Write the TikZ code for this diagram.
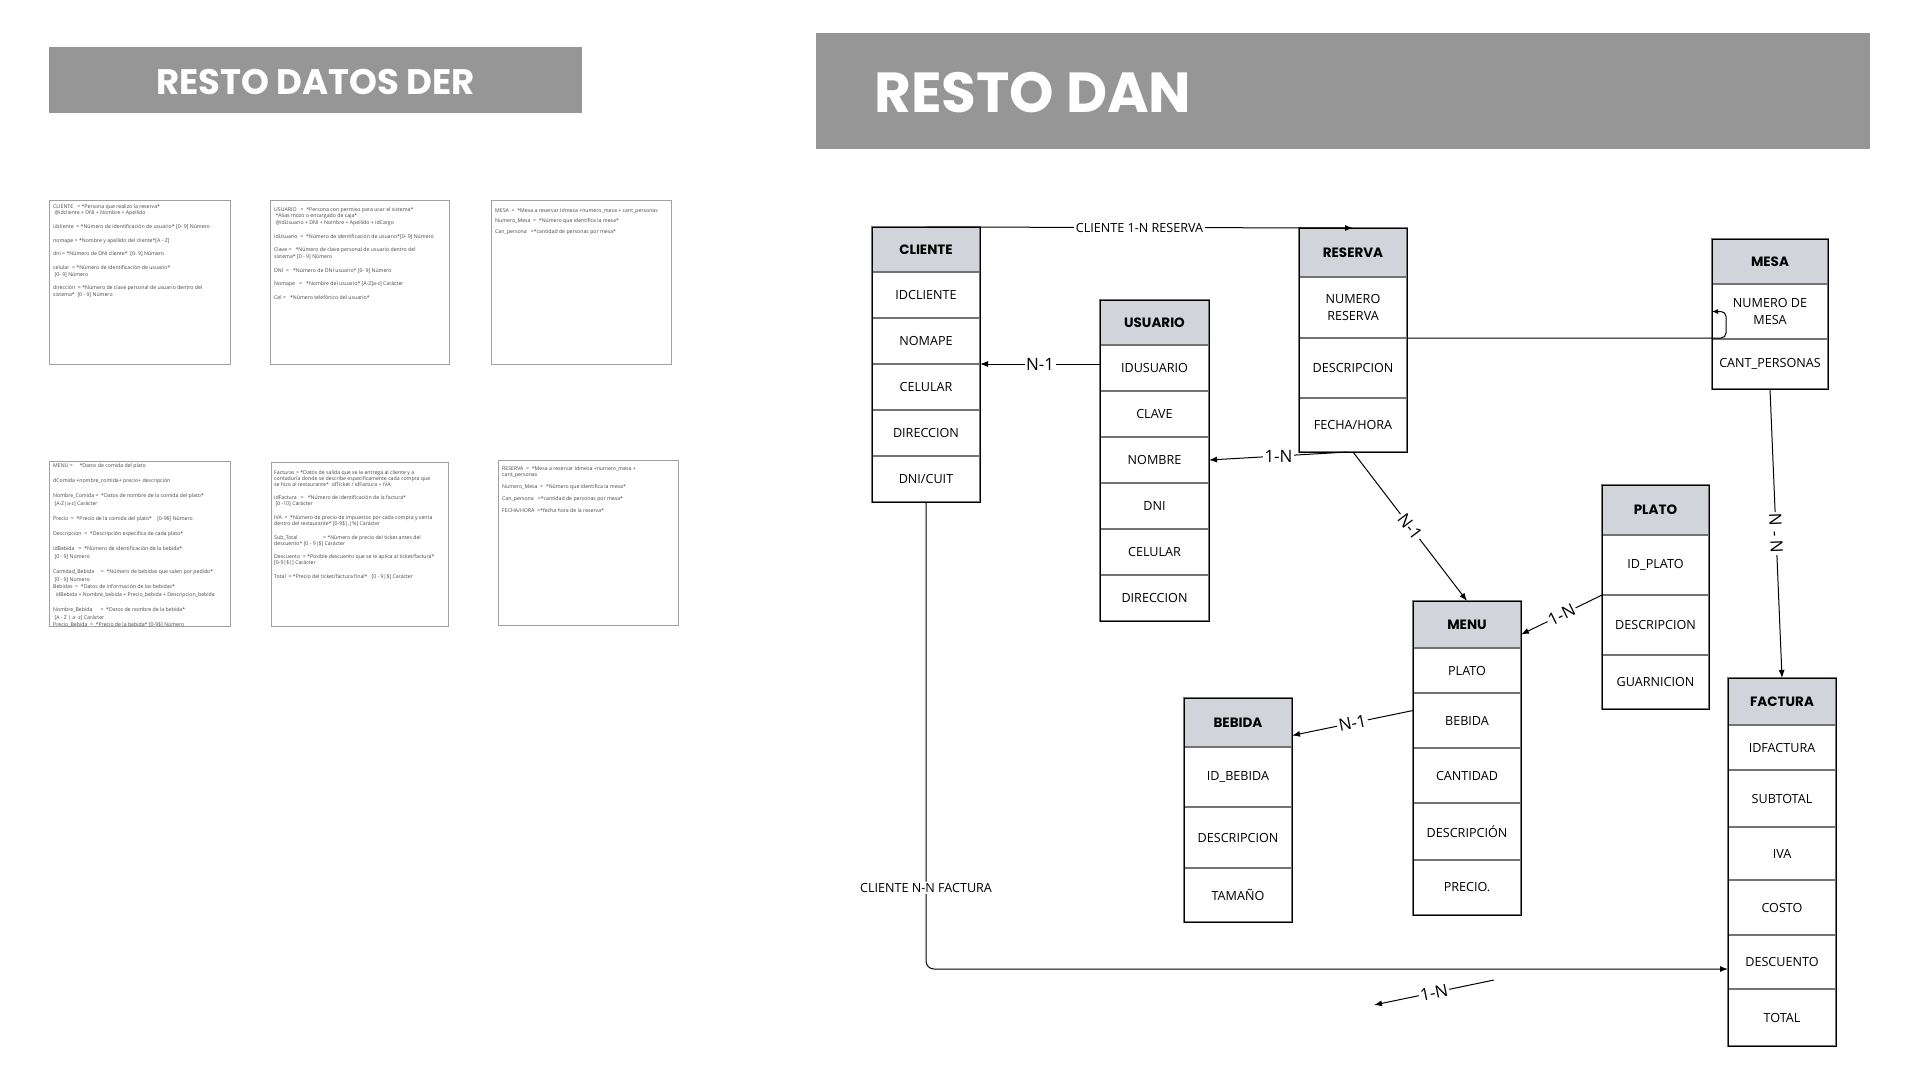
\documentclass[tikz,border=0pt]{standalone}
\usepackage{fontspec}
\setmainfont{Open Sans}
\newfontfamily\hfont{Poppins}
\usetikzlibrary{arrows.meta,calc}
\definecolor{bannerc}{RGB}{150,150,150}
\definecolor{hdrfill}{RGB}{209,213,219}
\definecolor{sepc}{RGB}{115,115,115}
\definecolor{tboxc}{RGB}{160,160,160}
\definecolor{ttc}{RGB}{70,70,70}
\begin{document}
\begin{tikzpicture}[x=1pt,y=-1pt,
  bannerbox/.style={fill=bannerc, draw=none, anchor=north west, inner sep=0pt, outer sep=0pt},
  ehdr/.style={draw=sepc, line width=1.2pt, fill=hdrfill, anchor=north west, inner sep=2pt, outer sep=0pt, font=\hfont\bfseries\fontsize{13.5}{15}\selectfont, align=center},
  erow/.style={draw=sepc, line width=1.2pt, fill=white, anchor=north west, inner sep=2pt, outer sep=0pt, font=\fontsize{12.6}{17}\selectfont, align=center},
  eouter/.style={draw=black, line width=1pt},
  conn/.style={draw=black, line width=1pt, -{Latex[length=8pt,width=6pt]}},
  clab/.style={fill=white, inner sep=1.5pt, font=\fontsize{17}{17}\selectfont},
  slab/.style={fill=white, inner sep=1.5pt, font=\fontsize{12.6}{13}\selectfont},
  tbox/.style={draw=tboxc, line width=0.8pt, anchor=north west, inner sep=0pt, outer sep=0pt},
  ttext/.style={anchor=north west, align=left, inner sep=0pt, text=ttc, font=\fontsize{5.2}{6.8}\selectfont},
]
\useasboundingbox (0,0) rectangle (1920,1080);
\fill[white] (0,0) rectangle (1920,1080);

% ---------- banners ----------
\node[bannerbox, minimum width=533pt, minimum height=66pt] (ban1) at (49,47) {};
\node[font=\hfont\bfseries\fontsize{35.5}{35.5}\selectfont, text=white, inner sep=0pt] (ban1t) at ($(ban1.center)+(0,2)$) {RESTO DATOS DER};
\node[bannerbox, minimum width=1054pt, minimum height=116pt] (ban2) at (816,33) {};
\node[font=\hfont\bfseries\fontsize{56.5}{56.5}\selectfont, text=white, inner sep=0pt, anchor=west] (ban2t) at (874,93) {RESTO DAN};

% ---------- text boxes ----------
\node[tbox, minimum width=181pt, minimum height=164pt] (b1) at (49,200) {};
\node[ttext] (b1t) at (53,204) {CLIENTE \ \ = *Persona que realizo la reserva*\\
\ @idcliente + DNI + Nombre + Apellido\\[6.8pt]
idcliente \ = *Número de identificación de usuario* [0- 9] Número\\[6.8pt]
nomape = *Nombre y apellido del cliente*[A - Z]\\[6.8pt]
dni = *Número de DNI cliente* \ [0- 9] Número\\[6.8pt]
celular \ = *Número de identificación de usuario*\\
{}\ [0- 9] Número\\[6.8pt]
dirección \ = *Número de clave personal de usuario dentro del\\
sistema* \ [0 - 9] Número};

\node[tbox, minimum width=179pt, minimum height=164pt] (b2) at (270,200) {};
\node[ttext] (b2t) at (274,207) {USUARIO \ \ = \ *Persona con permiso para usar el sistema*\\
\ *Alias mozo o encargado de caja*\\
\ @idUsuario + DNI + Nombre + Apellido + idCargo\\[6.8pt]
idUsuario \ = \ *Número de identificación de usuario*[0- 9] Número\\[6.8pt]
Clave = \ \ *Número de clave personal de usuario dentro del\\
sistema* [0 - 9] Número\\[6.8pt]
DNI \ = \ \ *Número de DNI usuario* [0- 9] Número\\[6.8pt]
Nomape \ \ = \ \ *Nombre del usuario* [A-Z]a-z] Carácter\\[6.8pt]
Cel = \ \ *Número telefónico del usuario*};

\node[tbox, minimum width=180pt, minimum height=164pt] (b3) at (491,200) {};
\node[ttext] (b3t) at (495,208) {MESA \ = \ *Mesa a reservar Idmesa +numero\_mesa + cant\_personas\\[3.8pt]
Numero\_Mesa \ = \ *Número que identifica la mesa*\\[3.8pt]
Can\_persona \ \ =*cantidad de personas por mesa*};

\node[tbox, minimum width=181pt, minimum height=165pt] (b4) at (49,461) {};
\node[ttext, font=\fontsize{5.2}{7.6}\selectfont] (b4t) at (53,463) {MENU = \ \ \ \ *Datos de comida del plato\\[7.6pt]
dComida +nombre\_comida+ precio+ descripción\\[7.6pt]
Nombre\_Comida = \ *Datos de nombre de la comida del plato*\\
{}\ [A-Z|a-z] Carácter\\[7.6pt]
Precio \ = \ *Precio de la comida del plato* \ \ \ [0-9\$] Número\\[7.6pt]
Descripcion \ = \ *Descripción especifica de cada plato*\\[7.6pt]
idBebida \ \ = \ *Número de identificación de la bebida*\\
{}\ [0 - 9] Número\\[7.6pt]
Cantidad\_Bebida \ \ \ \ = \ *Número de bebidas que salen por pedido*\\
{}\ [0 - 9] Numero\\
Bebidas \ = \ *Datos de información de las bebidas*\\
\ \ idBebida + Nombre\_bebida + Precio\_bebida + Descripcion\_bebida\\[7.6pt]
Nombre\_Bebida \ \ \ \ \ = \ *Datos de nombre de la bebida*\\
{}\ [A - Z | a -z] Carácter\\
Precio\_Bebida \ = \ *Precio de la bebida* [0-9\$] Número};

\node[tbox, minimum width=177pt, minimum height=164pt] (b5) at (271,462) {};
\node[ttext, font=\fontsize{5.2}{6.1}\selectfont] (b5t) at (274,470) {Facturas = *Datos de salida que se le entrega al cliente y a\\
contaduría donde se describe especificamente cada compra que\\
se hizo al restaurante* \ idTicket / idFactura + IVA\\[7.4pt]
idFactura \ \ = \ \ *Número de identificación de la factura*\\
{}\ [0 -10] Carácter\\[7.4pt]
IVA \ = \ *Número de precio de impuestos por cada compra y venta\\
dentro del restaurante* [0-9\$|,|\%] Carácter\\[7.4pt]
Sub\_Total \ \ \ \ \ \ \ \ \ \ \ \ \ \ \ \ \ \ = *Número de precio del ticket antes del\\
descuento* [0 - 9|\$] Carácter\\[7.4pt]
Descuento \ = *Posible descuento que se le aplica al ticket/factura*\\
{}[0-9|\$|] Carácter\\[7.4pt]
Total \ = *Precio del ticket/factura final* \ \ [0 - 9|\$] Carácter};

\node[tbox, minimum width=180pt, minimum height=165pt] (b6) at (498,460) {};
\node[ttext, font=\fontsize{5.2}{6.4}\selectfont] (b6t) at (502,466) {RESERVA \ = \ *Mesa a reservar Idmesa +numero\_mesa +\\
cant\_personas\\[5.5pt]
Numero\_Mesa \ = \ *Número que identifica la mesa*\\[5.5pt]
Can\_persona \ \ =*cantidad de personas por mesa*\\[5.5pt]
FECHA/HORA \ =*fecha hora de la reserva*};

% ---------- CLIENTE ----------
\node[ehdr, minimum width=108pt, minimum height=45pt] (cliH) at (872,227) {CLIENTE};
\node[erow, minimum width=108pt, minimum height=46pt] (cliA) at (872,272) {IDCLIENTE};
\node[erow, minimum width=108pt, minimum height=46pt] (cliB) at (872,318) {NOMAPE};
\node[erow, minimum width=108pt, minimum height=46pt] (cliC) at (872,364) {CELULAR};
\node[erow, minimum width=108pt, minimum height=46pt] (cliD) at (872,410) {DIRECCION};
\node[erow, minimum width=108pt, minimum height=46pt] (cliE) at (872,456) {DNI/CUIT};
\draw[eouter] (cliH.north west) rectangle (cliE.south east);

% ---------- USUARIO ----------
\node[ehdr, minimum width=109pt, minimum height=45pt] (usuH) at (1100,300) {USUARIO};
\node[erow, minimum width=109pt, minimum height=46pt] (usuA) at (1100,345) {IDUSUARIO};
\node[erow, minimum width=109pt, minimum height=46pt] (usuB) at (1100,391) {CLAVE};
\node[erow, minimum width=109pt, minimum height=46pt] (usuC) at (1100,437) {NOMBRE};
\node[erow, minimum width=109pt, minimum height=46pt] (usuD) at (1100,483) {DNI};
\node[erow, minimum width=109pt, minimum height=46pt] (usuE) at (1100,529) {CELULAR};
\node[erow, minimum width=109pt, minimum height=46pt] (usuF) at (1100,575) {DIRECCION};
\draw[eouter] (usuH.north west) rectangle (usuF.south east);

% ---------- RESERVA ----------
\node[ehdr, minimum width=108pt, minimum height=49pt] (resH) at (1299,228) {RESERVA};
\node[erow, minimum width=108pt, minimum height=61pt] (resA) at (1299,277) {NUMERO\\RESERVA};
\node[erow, minimum width=108pt, minimum height=60pt] (resB) at (1299,338) {DESCRIPCION};
\node[erow, minimum width=108pt, minimum height=54pt] (resC) at (1299,398) {FECHA/HORA};
\draw[eouter] (resH.north west) rectangle (resC.south east);

% ---------- MESA ----------
\node[ehdr, minimum width=116pt, minimum height=45pt] (mesH) at (1712,239) {MESA};
\node[erow, minimum width=116pt, minimum height=55pt] (mesA) at (1712,284) {NUMERO DE\\MESA};
\node[erow, minimum width=116pt, minimum height=50pt] (mesB) at (1712,339) {CANT\_PERSONAS};
\draw[eouter] (mesH.north west) rectangle (mesB.south east);

% ---------- PLATO ----------
\node[ehdr, minimum width=107pt, minimum height=50pt] (plaH) at (1602,485) {PLATO};
\node[erow, minimum width=107pt, minimum height=60pt] (plaA) at (1602,535) {ID\_PLATO};
\node[erow, minimum width=107pt, minimum height=60pt] (plaB) at (1602,595) {DESCRIPCION};
\node[erow, minimum width=107pt, minimum height=54pt] (plaC) at (1602,655) {GUARNICION};
\draw[eouter] (plaH.north west) rectangle (plaC.south east);

% ---------- MENU ----------
\node[ehdr, minimum width=108pt, minimum height=47pt] (menH) at (1413,601) {MENU};
\node[erow, minimum width=108pt, minimum height=45pt] (menA) at (1413,648) {PLATO};
\node[erow, minimum width=108pt, minimum height=55pt] (menB) at (1413,693) {BEBIDA};
\node[erow, minimum width=108pt, minimum height=55pt] (menC) at (1413,748) {CANTIDAD};
\node[erow, minimum width=108pt, minimum height=57pt] (menD) at (1413,803) {DESCRIPCIÓN};
\node[erow, minimum width=108pt, minimum height=55pt] (menE) at (1413,860) {PRECIO.};
\draw[eouter] (menH.north west) rectangle (menE.south east);

% ---------- BEBIDA ----------
\node[ehdr, minimum width=108pt, minimum height=49pt] (bebH) at (1184,698) {BEBIDA};
\node[erow, minimum width=108pt, minimum height=60pt] (bebA) at (1184,747) {ID\_BEBIDA};
\node[erow, minimum width=108pt, minimum height=61pt] (bebB) at (1184,807) {DESCRIPCION};
\node[erow, minimum width=108pt, minimum height=54pt] (bebC) at (1184,868) {TAMAÑO};
\draw[eouter] (bebH.north west) rectangle (bebC.south east);

% ---------- FACTURA ----------
\node[ehdr, minimum width=108pt, minimum height=47pt] (facH) at (1728,678) {FACTURA};
\node[erow, minimum width=108pt, minimum height=45pt] (facA) at (1728,725) {IDFACTURA};
\node[erow, minimum width=108pt, minimum height=57pt] (facB) at (1728,770) {SUBTOTAL};
\node[erow, minimum width=108pt, minimum height=53pt] (facC) at (1728,827) {IVA};
\node[erow, minimum width=108pt, minimum height=55pt] (facD) at (1728,880) {COSTO};
\node[erow, minimum width=108pt, minimum height=54pt] (facE) at (1728,935) {DESCUENTO};
\node[erow, minimum width=108pt, minimum height=57pt] (facF) at (1728,989) {TOTAL};
\draw[eouter] (facH.north west) rectangle (facF.south east);

% ---------- connectors ----------
\draw[conn] (cliH.north) -- node[slab]{CLIENTE 1-N RESERVA} (resH.north);
\draw[conn] (usuA.west |- cliB.south) -- node[clab]{N-1} (cliB.south east);
\draw[conn] ($(resC.south)+(-5,0)$) -- node[clab]{1-N} (usuC.east);
\draw[conn] (resC.south) -- node[clab, sloped]{N-1} (menH.north);
\draw[conn, rounded corners=5pt, -{Latex[length=6pt,width=5pt]}] (resA.south east) -| ($(mesA.west)+(14,0)$) -- (mesA.west);
\draw[conn] (mesB.south) -- node[clab, sloped]{N - N} (facH.north);
\draw[conn] (plaA.south west) -- node[clab, sloped]{1-N} ($(menH.east)+(0,10)$);
\draw[conn] ($(menB.west)+(0,-10)$) -- node[clab, sloped]{N-1} ($(bebH.east)+(0,13)$);
\draw[conn, rounded corners=8pt] (cliE.south) |- node[slab, pos=0.413]{CLIENTE N-N FACTURA} ($(facE.west)+(0,7)$);
\coordinate (fa1) at (1494,980);
\coordinate (fa2) at (1374,1005);
\draw[conn] (fa1) -- node[clab, sloped]{1-N} (fa2);
\end{tikzpicture}
\end{document}
